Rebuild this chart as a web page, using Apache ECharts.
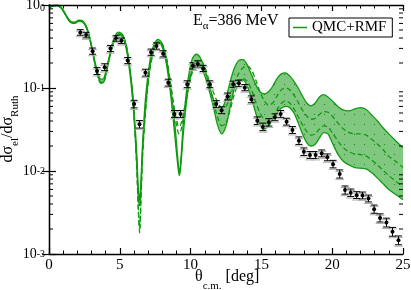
<!DOCTYPE html>
<html><head><meta charset="utf-8">
<script src="https://cdn.jsdelivr.net/npm/echarts@6/dist/echarts.min.js"></script>
<style>html,body{margin:0;padding:0;background:#fff}#c{width:411px;height:290px}</style>
</head><body><div id="c"></div>
<script>
// ---- data ----
const thetaGrid = [0,0.3,0.6,0.9,1.2,1.5,1.8,2.1,2.4,2.7,3.0,3.3,3.6,3.8,4.0,4.3,4.6,4.9,5.2,5.5,5.8,6.0,6.2,6.3,6.4,6.5,6.6,6.8,7.1,7.4,7.7,8.0,8.3,8.6,8.9,9.1,9.2,9.3,9.5,9.8,10.1,10.4,10.7,11.0,11.3,11.6,11.9,12.2,12.5,12.8,13.1,13.4,13.7,14.0,14.3,14.6,14.9,15.2,15.5,15.8,16.1,16.4,16.7,17.0,17.3,17.6,17.9,18.2,18.5,18.8,19.1,19.4,19.7,20.0,20.4,20.8,21.2,21.6,22.0,22.4,22.8,23.2,23.6,24.0,24.5,25.0];
const bandUpper = [0.95,0.99,1.0,0.92,0.76,0.64,0.62,0.655,0.64,0.52,0.33,0.19,0.13,0.128,0.155,0.26,0.40,0.47,0.44,0.30,0.13,0.055,0.016,0.0065,0.0045,0.008,0.02,0.07,0.20,0.33,0.385,0.34,0.22,0.10,0.035,0.014,0.0095,0.013,0.04,0.12,0.22,0.255,0.23,0.17,0.11,0.075,0.058,0.058,0.075,0.12,0.175,0.215,0.22,0.19,0.145,0.11,0.09,0.085,0.09,0.105,0.13,0.148,0.152,0.14,0.12,0.10,0.08,0.066,0.061,0.066,0.078,0.083,0.078,0.07,0.06,0.054,0.053,0.056,0.058,0.055,0.047,0.04,0.033,0.028,0.023,0.019];
const bandLower = [0.93,0.97,0.98,0.90,0.74,0.62,0.60,0.635,0.62,0.50,0.31,0.175,0.118,0.115,0.14,0.24,0.37,0.44,0.41,0.27,0.11,0.045,0.012,0.005,0.0038,0.0065,0.016,0.055,0.17,0.30,0.36,0.31,0.19,0.08,0.025,0.0115,0.0088,0.011,0.03,0.09,0.16,0.19,0.18,0.14,0.095,0.06,0.036,0.028,0.035,0.06,0.10,0.125,0.125,0.105,0.075,0.05,0.036,0.032,0.035,0.042,0.05,0.057,0.06,0.058,0.05,0.038,0.028,0.022,0.02,0.021,0.025,0.029,0.028,0.022,0.016,0.013,0.0118,0.011,0.0108,0.0106,0.0095,0.0082,0.007,0.006,0.0052,0.0045];
const dashedA = [0.94,0.98,0.99,0.91,0.75,0.63,0.61,0.645,0.63,0.51,0.32,0.18,0.12,0.118,0.145,0.25,0.38,0.45,0.43,0.30,0.13,0.05,0.012,0.004,0.0018,0.005,0.015,0.05,0.16,0.29,0.36,0.34,0.23,0.11,0.05,0.036,0.034,0.036,0.05,0.10,0.17,0.21,0.215,0.18,0.125,0.09,0.068,0.058,0.06,0.08,0.115,0.15,0.175,0.185,0.165,0.125,0.09,0.07,0.062,0.066,0.08,0.095,0.10,0.095,0.082,0.067,0.054,0.046,0.042,0.043,0.048,0.052,0.051,0.046,0.038,0.032,0.029,0.028,0.028,0.027,0.024,0.021,0.018,0.015,0.013,0.011];
const dashedB = [0.935,0.975,0.985,0.905,0.745,0.625,0.605,0.64,0.625,0.505,0.315,0.178,0.116,0.114,0.14,0.245,0.375,0.445,0.425,0.29,0.125,0.047,0.011,0.0035,0.002,0.0048,0.014,0.048,0.155,0.28,0.35,0.33,0.22,0.105,0.045,0.03,0.028,0.03,0.045,0.09,0.15,0.19,0.19,0.16,0.11,0.07,0.045,0.035,0.038,0.055,0.085,0.115,0.13,0.12,0.095,0.068,0.05,0.042,0.041,0.045,0.055,0.065,0.07,0.066,0.056,0.045,0.036,0.03,0.027,0.028,0.032,0.035,0.034,0.029,0.023,0.019,0.017,0.016,0.0158,0.0152,0.0135,0.0118,0.0102,0.0088,0.0075,0.0065];
const expTheta = [2.21,2.62,3.08,3.39,3.93,4.34,4.74,5.11,5.56,6.01,6.39,6.81,7.21,7.59,8.06,8.42,8.86,9.29,9.76,10.16,10.51,10.89,11.36,11.81,12.19,12.61,13.01,13.41,13.83,14.29,14.71,15.11,15.53,15.96,16.36,16.78,17.19,17.65,18.0,18.43,18.83,19.26,19.66,20.06,20.53,20.91,21.31,21.73,22.14,22.56,22.96,23.38,23.83,24.26,24.68];
const expSigma = [0.467,0.434,0.278,0.160,0.178,0.299,0.395,0.37,0.214,0.064,0.0365,0.153,0.27,0.32,0.258,0.116,0.0487,0.0487,0.111,0.185,0.195,0.172,0.111,0.064,0.054,0.079,0.111,0.114,0.101,0.073,0.0404,0.034,0.0386,0.0444,0.0487,0.0393,0.0312,0.0232,0.0171,0.0156,0.0156,0.0163,0.0146,0.0121,0.0092,0.00589,0.00546,0.00512,0.00507,0.00466,0.00347,0.00272,0.00239,0.00185,0.00146];
const expErr = [0.08,0.08,0.09,0.1,0.1,0.09,0.08,0.08,0.09,0.11,0.11,0.1,0.09,0.09,0.09,0.1,0.1,0.1,0.1,0.09,0.09,0.09,0.1,0.1,0.1,0.1,0.09,0.09,0.09,0.1,0.11,0.11,0.11,0.1,0.1,0.1,0.1,0.11,0.11,0.1,0.1,0.1,0.1,0.11,0.12,0.12,0.11,0.1,0.1,0.1,0.12,0.12,0.13,0.13,0.13];
const xTickLabels = ['0','5','10','15','20','25'];
const seriesName = 'QMC+RMF';
const energyLabel = '{a|E}{s|α}{a|=386 MeV}';
const xTitle = '{a|θ}{s|c.m.}{a| [deg]}';
const yTitleParts = [['dσ','b'],['el','s'],['/dσ','b'],['Ruth','s']];

// ---- styles ----
const GREEN = '#119a11';
const FONTNAME = 'Liberation Serif';
const FONT = "'Liberation Serif','DejaVu Serif',serif";
const pc = document.createElement('canvas'); pc.width = 10; pc.height = 10;
const g = pc.getContext('2d'); g.fillStyle = '#80c880'; g.fillRect(0,0,10,10);
g.fillStyle = '#2a7d2a'; g.fillRect(4,4,1,1);

const pair = arr => thetaGrid.map((x,i)=>[x,arr[i]]);
const minorVals = [];
for (let d=-3; d<0; d++) for (let k=2;k<=9;k++) minorVals.push([0, k*Math.pow(10,d)]);

// y title built from rotated plain text pieces (sub/base)
const mc = document.createElement('canvas').getContext('2d');
const partSize = {b:16, s:11};
const widths = yTitleParts.map(([t,k]) => { mc.font = partSize[k]+"px '"+FONTNAME+"'"; return mc.measureText(t).width; });
const totalW = widths.reduce((a,b)=>a+b,0);
const yTitleCenter = 129;
let acc = 0;
const yTitleEls = yTitleParts.map(([t,k],i) => {
  const el = {type:'text', x:(k==='b'?8:15.5), y:yTitleCenter + totalW/2 - acc, rotation:Math.PI/2, z:20,
    style:{text:t, fontFamily:FONT, fontSize:partSize[k], fill:'#000', align:'left', verticalAlign:'middle'}};
  acc += widths[i];
  return el;
});

function renderErr(params, api){
  const x = api.value(0), y = api.value(1), e = api.value(2);
  const p = api.coord([x,y]);
  const t = api.coord([x, y*(1+e)]);
  const b = api.coord([x, y/(1+e)]);
  const cw = 3.5;
  const blk = {stroke:'#000', lineWidth:1};
  const gr = {stroke:'#b0b0b0', lineWidth:1};
  return {type:'group', children:[
    {type:'line', shape:{x1:p[0]-cw-1,y1:t[1]+1.5,x2:p[0]+cw+1,y2:t[1]+1.5}, style:gr},
    {type:'line', shape:{x1:p[0]-cw-1,y1:b[1]+1.5,x2:p[0]+cw+1,y2:b[1]+1.5}, style:gr},
    {type:'line', shape:{x1:p[0],y1:t[1],x2:p[0],y2:b[1]}, style:blk},
    {type:'line', shape:{x1:p[0]-cw,y1:t[1],x2:p[0]+cw,y2:t[1]}, style:blk},
    {type:'line', shape:{x1:p[0]-cw,y1:b[1],x2:p[0]+cw,y2:b[1]}, style:blk},
    {type:'circle', shape:{cx:p[0],cy:p[1],r:2}, style:{fill:'#000'}}
  ]};
}
function renderMinor(params, api){
  const v = api.value(1);
  const l = api.coord([0, v]), r = api.coord([25, v]);
  const st = {stroke:'#000', lineWidth:1};
  return {type:'group', children:[
    {type:'line', shape:{x1:l[0],y1:l[1],x2:l[0]+4,y2:l[1]}, style:st},
    {type:'line', shape:{x1:r[0],y1:r[1],x2:r[0]-4,y2:r[1]}, style:st}
  ]};
}

const xAxisBase = {
  type:'value', min:0, max:25, interval:5, z:10,
  axisLine:{lineStyle:{color:'#000', width:1.3}},
  axisTick:{inside:true, length:6, lineStyle:{color:'#000', width:1.2}},
  minorTick:{show:true, splitNumber:5, length:3.5, lineStyle:{color:'#000', width:1}},
  splitLine:{show:false}
};
const yAxisBase = {
  type:'log', logBase:10, min:0.001, max:1, z:10,
  axisLine:{show:true, lineStyle:{color:'#000', width:1.3}},
  axisTick:{inside:true, length:7, lineStyle:{color:'#000', width:1.2}},
  splitLine:{show:false}
};

const chart = echarts.init(document.getElementById('c'), null, {renderer:'canvas'});
chart.setOption({
  animation:false,
  backgroundColor:'#fff',
  grid:{left:49, right:8, top:5, bottom:36, containLabel:false, outerBoundsMode:'none'},
  legend:{
    data:[{name:seriesName, icon:'rect', itemStyle:{color:GREEN}}],
    left:289, top:18, padding:[2,6,2,4], itemWidth:14, itemHeight:1.5,
    borderColor:'#000', borderWidth:1, borderRadius:0, backgroundColor:'#fff',
    selectedMode:false,
    textStyle:{fontFamily:FONT, fontSize:15, color:'#000'}
  },
  xAxis:[
    Object.assign({}, xAxisBase, {position:'bottom',
      axisLabel:{margin:4, fontFamily:FONT, fontSize:15, color:'#000',
        formatter:(v)=>xTickLabels[Math.round(v/5)]}}),
    Object.assign({}, xAxisBase, {position:'top', axisLabel:{show:false}})
  ],
  yAxis:[
    Object.assign({}, yAxisBase, {position:'left',
      axisLabel:{margin:4, color:'#000',
        formatter:(v)=>{ const e = Math.round(Math.log10(v)); return e===0 ? '{b|10}{s0|0}' : '{b|10}{s|'+e+'}'; },
        rich:{
          b:{fontFamily:FONT, fontSize:14, color:'#000', lineHeight:14, verticalAlign:'bottom', padding:[8,0,0,0]},
          s:{fontFamily:FONT, fontSize:10, color:'#000', lineHeight:12, verticalAlign:'top', padding:[2,0,0,0]},
          s0:{fontFamily:FONT, fontSize:10, color:'#000', lineHeight:12, verticalAlign:'top', padding:[5,0,0,0]}
        }}}),
    Object.assign({}, yAxisBase, {position:'right', axisLabel:{show:false}})
  ],
  graphic:[
    {type:'text', left:193, top:13, z:20, style:{text:energyLabel, rich:{
      a:{fontFamily:FONT, fontSize:16, fill:'#000', lineHeight:20, verticalAlign:'top'},
      s:{fontFamily:FONT, fontSize:11, fill:'#000', lineHeight:12, verticalAlign:'top', padding:[8,0,0,0]}}}},
    {type:'text', left:195, top:269, z:20, style:{text:xTitle, rich:{
      a:{fontFamily:FONT, fontSize:16, fill:'#000', lineHeight:22, verticalAlign:'top'},
      s:{fontFamily:FONT, fontSize:11, fill:'#000', lineHeight:12, verticalAlign:'top', padding:[12,0,0,0]}}}}
  ].concat(yTitleEls),
  series:[
    {name:seriesName, type:'line', data:pair(bandUpper), smooth:0.3, symbol:'none',
      lineStyle:{color:GREEN, width:1.3}, itemStyle:{color:GREEN},
      areaStyle:{color:{image:pc, repeat:'repeat'}, origin:'start', opacity:1}, z:2},
    {name:'lower', type:'line', data:pair(bandLower), smooth:0.3, symbol:'none',
      lineStyle:{color:GREEN, width:1.3}, areaStyle:{color:'#fff', origin:'start', opacity:1}, z:2},
    {name:'dashA', type:'line', data:pair(dashedA), smooth:0.3, symbol:'none',
      lineStyle:{color:GREEN, width:1.3, type:[5,3]}, z:3},
    {name:'dashB', type:'line', data:pair(dashedB), smooth:0.3, symbol:'none',
      lineStyle:{color:GREEN, width:1.3, type:[5,3]}, z:3},
    {name:'exp', type:'custom', renderItem:renderErr, z:6,
      data:expTheta.map((x,i)=>[x, expSigma[i], expErr[i]]), encode:{x:0,y:1}},
    {name:'minor', type:'custom', renderItem:renderMinor, z:11, clip:false,
      data:minorVals, encode:{x:0,y:1}}
  ]
});
</script></body></html>
